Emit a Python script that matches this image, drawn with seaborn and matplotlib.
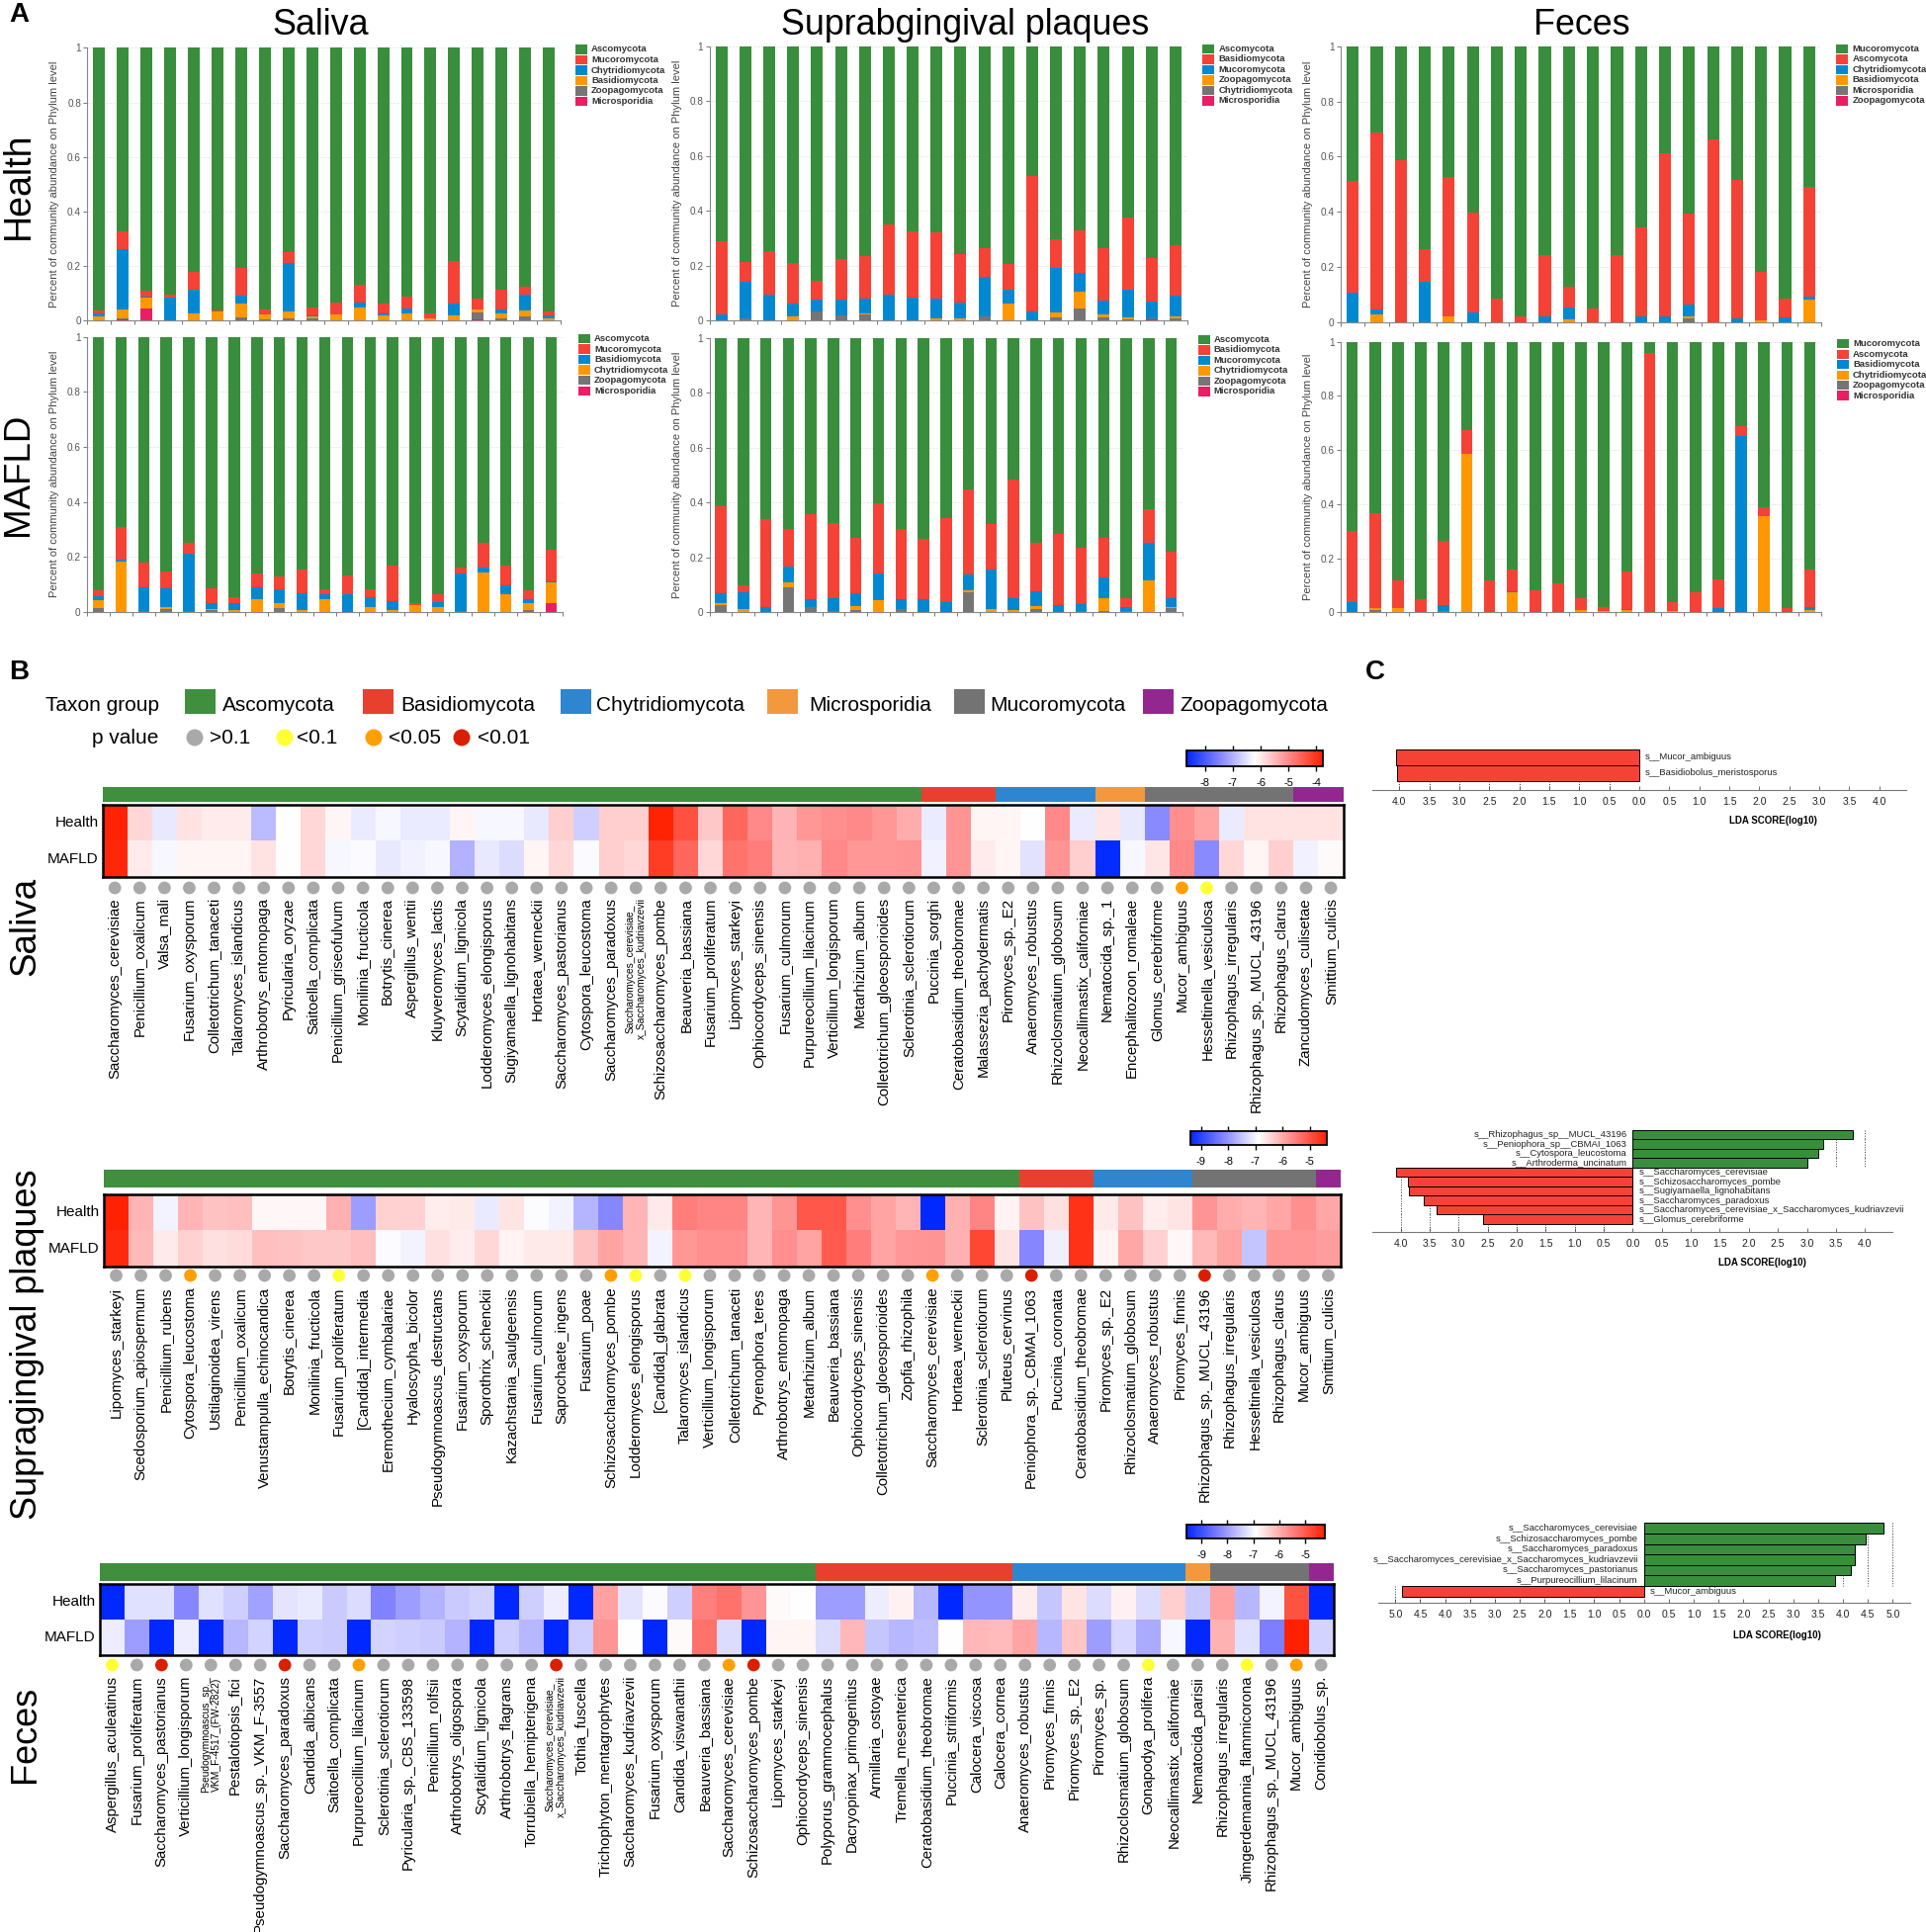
import numpy as np
import pandas as pd
import matplotlib
matplotlib.use("Agg")
import matplotlib.pyplot as plt
from matplotlib.colors import LinearSegmentedColormap, ListedColormap
from matplotlib.patches import Rectangle
import seaborn as sns

W, H = 1949, 1954

# ---------- panel A: phylum composition (bottom-up slots, green fills to 1) ----------
saliva_h_pink = [0, .005, .045, 0, 0, 0, 0, 0, 0, 0, 0, 0, 0, 0, 0, 0, .003, 0, 0, 0]
saliva_h_gray = [0, .003, 0, 0, 0, 0, .012, .005, .007, .01, 0, 0, 0, 0, 0, 0, .027, .01, .017, 0]
saliva_h_orange = [.015, .032, .04, 0, .027, .032, .051, .019, .028, .005, .024, .05, .02, .028, .01, .018, .01, .016, .02, .01]
saliva_h_blue = [.01, .222, .003, .083, .085, 0, .027, 0, .178, .005, 0, .018, .005, .018, 0, .044, 0, .016, .058, .01]
saliva_h_red = [.012, .065, .023, .012, .068, .005, .102, .016, .037, .03, .043, .064, .037, .042, .015, .156, .04, .071, .029, .012]

saliva_m_pink = [0] * 20 + [.03]
saliva_m_gray = [.012, 0, .003, .01, .003, .005, 0, 0, .014, 0, 0, 0, 0, 0, 0, 0, .003, 0, 0, .006, 0]
saliva_m_orange = [.029, .184, 0, .007, 0, .005, .007, .045, .019, .006, .045, 0, .016, .006, .024, .018, 0, .143, .065, .026, .076]
saliva_m_blue = [.015, .006, .087, .067, .207, .023, .023, .045, .047, .06, .018, .064, .037, .031, .001, .017, .137, .017, .032, .013, .006]
saliva_m_red = [.022, .117, .09, .063, .04, .051, .022, .051, .048, .087, .02, .068, .027, .131, .005, .028, .02, .09, .07, .032, .113]

supra_h_pink = [0] * 18 + [.005, 0]
supra_h_gray = [0, .01, 0, 0, .032, .02, .024, 0, 0, 0, 0, .015, 0, 0, .013, .046, .012, .003, .003, .007]
supra_h_orange = [0, 0, 0, .016, 0, 0, .003, .002, 0, .01, .01, 0, .062, 0, .017, .061, .011, .01, 0, .007]
supra_h_blue = [.023, .132, .096, .046, .044, .056, .055, .094, .083, .072, .057, .145, .051, .033, .162, .066, .052, .1, .06, .076]
supra_h_red = [.267, .072, .156, .148, .07, .15, .154, .254, .242, .24, .175, .105, .092, .495, .106, .157, .188, .262, .16, .185]

supra_m_pink = [0] * 21
supra_m_gray = [.028, 0, 0, .092, .018, .003, .01, 0, .012, 0, 0, .074, 0, 0, .012, 0, .003, .003, .005, 0, .015]
supra_m_orange = [.005, .012, 0, .016, 0, 0, .012, .043, 0, 0, 0, .006, .012, .007, .011, 0, 0, .047, 0, .118, .005]
supra_m_blue = [.037, .06, .02, .057, .03, .05, .048, .1, .036, .048, .037, .057, .144, .046, .052, .028, .027, .078, .015, .134, .033]
supra_m_red = [.318, .025, .319, .138, .31, .272, .2, .253, .254, .219, .308, .31, .167, .432, .18, .257, .204, .142, .033, .124, .168]

feces_h_pink = [0] * 20
feces_h_gray = [0] * 14 + [.012] + [0] * 5
feces_h_orange = [0, .028, 0, 0, .02, 0, 0, 0, 0, .008, 0, 0, 0, 0, .01, 0, 0, .006, 0, .08]
feces_h_blue = [.105, .017, 0, .146, 0, .035, 0, 0, .02, .044, 0, 0, .022, .02, .043, 0, .012, 0, .017, .011]
feces_h_red = [.407, .643, .589, .117, .506, .362, .084, .02, .222, .075, .05, .243, .321, .591, .327, .662, .502, .175, .069, .399]

feces_m_pink = [0] * 21
feces_m_gray = [0, .01, 0, .006, .006, 0, 0, 0, .003, 0, 0, 0, 0, 0, 0, 0, 0, 0, 0, 0, 0]
feces_m_orange = [0, .005, .016, 0, 0, .587, 0, .075, 0, 0, .009, .004, .008, 0, .005, 0, 0, 0, .355, 0, .01]
feces_m_blue = [.036, 0, 0, 0, .02, 0, 0, .003, .003, 0, 0, 0, .005, 0, 0, 0, .014, .65, 0, 0, .01]
feces_m_red = [.266, .35, .102, .044, .237, .086, .118, .082, .077, .106, .043, .016, .137, .957, .031, .074, .108, .04, .032, .014, .14]

legend_saliva_h = ["Ascomycota", "Mucoromycota", "Chytridiomycota", "Basidiomycota", "Zoopagomycota", "Microsporidia"]
legend_saliva_m = ["Ascomycota", "Mucoromycota", "Basidiomycota", "Chytridiomycota", "Zoopagomycota", "Microsporidia"]
legend_supra_h = ["Ascomycota", "Basidiomycota", "Mucoromycota", "Zoopagomycota", "Chytridiomycota", "Microsporidia"]
legend_supra_m = ["Ascomycota", "Basidiomycota", "Mucoromycota", "Chytridiomycota", "Zoopagomycota", "Microsporidia"]
legend_feces_h = ["Mucoromycota", "Ascomycota", "Chytridiomycota", "Basidiomycota", "Microsporidia", "Zoopagomycota"]
legend_feces_m = ["Mucoromycota", "Ascomycota", "Basidiomycota", "Chytridiomycota", "Zoopagomycota", "Microsporidia"]

# ---------- panel B: heatmaps ----------
taxon_groups = ["Ascomycota", "Basidiomycota", "Chytridiomycota", "Microsporidia", "Mucoromycota", "Zoopagomycota"]
SACC_X = "Saccharomyces_cerevisiae_\nx_Saccharomyces_kudriavzevii"

saliva_names = ["Saccharomyces_cerevisiae", "Penicillium_oxalicum", "Valsa_mali", "Fusarium_oxysporum", "Colletotrichum_tanaceti",
                "Talaromyces_islandicus", "Arthrobotrys_entomopaga", "Pyricularia_oryzae", "Saitoella_complicata", "Penicillium_griseofulvum",
                "Monilinia_fructicola", "Botrytis_cinerea", "Aspergillus_wentii", "Kluyveromyces_lactis", "Scytalidium_lignicola",
                "Lodderomyces_elongisporus", "Sugiyamaella_lignohabitans", "Hortaea_werneckii", "Saccharomyces_pastorianus", "Cytospora_leucostoma",
                "Saccharomyces_paradoxus", SACC_X, "Schizosaccharomyces_pombe", "Beauveria_bassiana", "Fusarium_proliferatum",
                "Lipomyces_starkeyi", "Ophiocordyceps_sinensis", "Fusarium_culmorum", "Purpureocillium_lilacinum", "Verticillium_longisporum",
                "Metarhizium_album", "Colletotrichum_gloeosporioides", "Sclerotinia_sclerotiorum", "Puccinia_sorghi", "Ceratobasidium_theobromae",
                "Malassezia_pachydermatis", "Piromyces_sp._E2", "Anaeromyces_robustus", "Rhizoclosmatium_globosum", "Neocallimastix_californiae",
                "Nematocida_sp._1", "Encephalitozoon_romaleae", "Glomus_cerebriforme", "Mucor_ambiguus", "Hesseltinella_vesiculosa",
                "Rhizophagus_irregularis", "Rhizophagus_sp._MUCL_43196", "Rhizophagus_clarus", "Zancudomyces_culisetae", "Smittium_culicis"]
saliva_health = [-3.8, -5.8, -6.45, -5.9, -6.0, -6.0, -6.9, -6.2, -5.8, -6.1, -6.4, -6.3, -6.4, -6.4, -6.1, -6.3, -6.3, -6.45, -5.7, -6.7,
                 -5.7, -5.7, -3.8, -4.35, -5.65, -4.6, -5.0, -5.45, -5.15, -5.05, -5.0, -5.15, -5.35, -6.4, -5.1, -6.1, -6.1, -6.2, -5.0, -6.4,
                 -5.95, -6.45, -7.4, -5.05, -5.25, -6.4, -5.9, -5.9, -5.9, -5.9]
saliva_mafld = [-3.85, -6.0, -6.3, -6.1, -6.1, -6.1, -5.9, -6.2, -5.8, -6.3, -6.25, -6.45, -6.35, -6.3, -7.0, -6.45, -6.55, -6.1, -5.8, -6.25,
                -5.7, -5.8, -4.1, -4.6, -5.8, -4.75, -4.85, -5.45, -5.4, -5.0, -5.15, -5.15, -5.1, -6.35, -5.1, -6.0, -6.1, -6.5, -5.1, -5.7,
                -8.6, -6.3, -5.95, -5.0, -7.4, -5.8, -6.1, -5.7, -6.35, -6.15]
saliva_counts = [33, 3, 4, 2, 6, 2]
saliva_p = {44: "<0.05", 45: "<0.1"}
saliva_cbar_ticks = [-8, -7, -6, -5, -4]

supra_names = ["Lipomyces_starkeyi", "Scedosporium_apiospermum", "Penicillium_rubens", "Cytospora_leucostoma", "Ustilaginoidea_virens",
               "Penicillium_oxalicum", "Venustampulla_echinocandica", "Botrytis_cinerea", "Monilinia_fructicola", "Fusarium_proliferatum",
               "[Candida]_intermedia", "Eremothecium_cymbalariae", "Hyaloscypha_bicolor", "Pseudogymnoascus_destructans", "Fusarium_oxysporum",
               "Sporothrix_schenckii", "Kazachstania_saulgeensis", "Fusarium_culmorum", "Saprochaete_ingens", "Fusarium_poae",
               "Schizosaccharomyces_pombe", "Lodderomyces_elongisporus", "[Candida]_glabrata", "Talaromyces_islandicus", "Verticillium_longisporum",
               "Colletotrichum_tanaceti", "Pyrenophora_teres", "Arthrobotrys_entomopaga", "Metarhizium_album", "Beauveria_bassiana",
               "Ophiocordyceps_sinensis", "Colletotrichum_gloeosporioides", "Zopfia_rhizophila", "Saccharomyces_cerevisiae", "Hortaea_werneckii",
               "Sclerotinia_sclerotiorum", "Pluteus_cervinus", "Peniophora_sp._CBMAI_1063", "Puccinia_coronata", "Ceratobasidium_theobromae",
               "Piromyces_sp._E2", "Rhizoclosmatium_globosum", "Anaeromyces_robustus", "Piromyces_finnis", "Rhizophagus_sp._MUCL_43196",
               "Rhizophagus_irregularis", "Hesseltinella_vesiculosa", "Rhizophagus_clarus", "Mucor_ambiguus", "Smittium_culicis"]
supra_health = [-4.4, -6.1, -7.0, -6.1, -6.25, -6.2, -6.8, -6.8, -6.8, -6.05, -7.9, -6.4, -6.4, -6.7, -6.65, -7.1, -6.6, -6.9, -7.0, -7.65,
                -8.15, -6.1, -6.65, -5.5, -5.6, -5.6, -6.1, -5.75, -5.05, -5.05, -5.7, -5.9, -6.1, -9.38, -6.05, -5.6, -6.75, -6.25, -6.55, -4.6,
                -6.65, -6.25, -6.7, -6.6, -5.75, -6.0, -6.1, -5.95, -5.7, -5.95]
supra_mafld = [-4.5, -6.15, -6.65, -6.4, -6.55, -6.5, -6.2, -6.25, -6.3, -6.3, -6.2, -6.9, -7.0, -6.55, -6.7, -6.45, -6.75, -6.65, -6.65, -6.25,
               -5.9, -6.1, -7.0, -5.8, -5.7, -5.7, -6.1, -5.7, -5.9, -5.1, -5.5, -5.9, -5.8, -5.75, -6.05, -4.85, -6.6, -8.15, -7.05, -4.6,
               -6.75, -5.95, -6.4, -6.8, -6.15, -5.9, -7.5, -5.8, -5.8, -5.85]
supra_counts = [37, 3, 4, 0, 5, 1]
supra_p = {4: "<0.05", 10: "<0.1", 21: "<0.05", 22: "<0.1", 24: "<0.1", 34: "<0.05", 38: "<0.01", 45: "<0.01"}
supra_cbar_ticks = [-9, -8, -7, -6, -5]

feces_names = ["Aspergillus_aculeatinus", "Fusarium_proliferatum", "Saccharomyces_pastorianus", "Verticillium_longisporum",
               "Pseudogymnoascus_sp._\nVKM_F-4517_(FW-2822)", "Pestalotiopsis_fici", "Pseudogymnoascus_sp._VKM_F-3557", "Saccharomyces_paradoxus",
               "Candida_albicans", "Saitoella_complicata", "Purpureocillium_lilacinum", "Sclerotinia_sclerotiorum", "Pyricularia_sp._CBS_133598",
               "Penicillium_rolfsii", "Arthrobotrys_oligospora", "Scytalidium_lignicola", "Arthrobotrys_flagrans", "Torrubiella_hemipterigena",
               SACC_X, "Tothia_fuscella", "Trichophyton_mentagrophytes", "Saccharomyces_kudriavzevii", "Fusarium_oxysporum", "Candida_viswanathii",
               "Beauveria_bassiana", "Saccharomyces_cerevisiae", "Schizosaccharomyces_pombe", "Lipomyces_starkeyi", "Ophiocordyceps_sinensis",
               "Polyporus_grammocephalus", "Dacryopinax_primogenitus", "Armillaria_ostoyae", "Tremella_mesenterica", "Ceratobasidium_theobromae",
               "Puccinia_striiformis", "Calocera_viscosa", "Calocera_cornea", "Anaeromyces_robustus", "Piromyces_finnis", "Piromyces_sp._E2",
               "Piromyces_sp.", "Rhizoclosmatium_globosum", "Gonapodya_prolifera", "Neocallimastix_californiae", "Nematocida_parisii",
               "Rhizophagus_irregularis", "Jimgerdemannia_flammicorona", "Rhizophagus_sp._MUCL_43196", "Mucor_ambiguus", "Conidiobolus_sp."]
feces_health = [-9.55, -7.25, -7.25, -8.25, -7.25, -7.45, -7.95, -7.2, -7.15, -7.5, -7.3, -8.3, -8.0, -7.75, -7.5, -7.4, -9.55, -7.45, -7.1, -9.55,
                -5.85, -7.2, -6.95, -7.45, -5.45, -5.3, -5.7, -6.85, -6.9, -8.0, -8.0, -7.1, -6.75, -7.7, -9.55, -8.1, -8.1, -6.7, -7.55, -6.6,
                -7.3, -6.75, -7.3, -6.35, -7.5, -5.85, -7.7, -7.05, -4.9, -9.55]
feces_mafld = [-7.1, -8.0, -9.55, -7.1, -9.55, -7.7, -7.4, -9.55, -7.45, -7.5, -9.55, -7.4, -7.45, -7.5, -7.75, -9.55, -7.45, -7.7, -9.55, -7.45,
               -5.7, -6.9, -9.55, -6.85, -5.3, -7.3, -9.55, -6.8, -6.8, -7.3, -6.1, -7.55, -7.7, -7.65, -6.9, -6.1, -6.15, -5.9, -7.7, -6.25,
               -8.0, -7.35, -7.85, -7.0, -9.55, -6.05, -7.25, -8.35, -4.25, -7.4]
feces_counts = [29, 8, 7, 1, 4, 1]
feces_p = {1: "<0.1", 3: "<0.01", 8: "<0.01", 11: "<0.05", 19: "<0.01", 26: "<0.05", 27: "<0.01", 43: "<0.1", 47: "<0.1", 49: "<0.05"}
feces_cbar_ticks = [-9, -8, -7, -6, -5]

# ---------- panel C: LDA scores (negative = left side) ----------
lda1_names = ["s__Mucor_ambiguus", "s__Basidiobolus_meristosporus"]
lda1_scores = [-4.05, -4.04]
lda2_names = ["s__Rhizophagus_sp__MUCL_43196", "s__Peniophora_sp__CBMAI_1063", "s__Cytospora_leucostoma", "s__Arthroderma_uncinatum",
              "s__Saccharomyces_cerevisiae", "s__Schizosaccharomyces_pombe", "s__Sugiyamaella_lignohabitans", "s__Saccharomyces_paradoxus",
              "s__Saccharomyces_cerevisiae_x_Saccharomyces_kudriavzevii", "s__Glomus_cerebriforme"]
lda2_scores = [3.80, 3.28, 3.19, 3.01, -4.07, -3.88, -3.86, -3.6, -3.38, -2.58]
lda3_names = ["s__Saccharomyces_cerevisiae", "s__Schizosaccharomyces_pombe", "s__Saccharomyces_paradoxus",
              "s__Saccharomyces_cerevisiae_x_Saccharomyces_kudriavzevii", "s__Saccharomyces_pastorianus", "s__Purpureocillium_lilacinum",
              "s__Mucor_ambiguus"]
lda3_scores = [4.81, 4.46, 4.23, 4.24, 4.16, 3.85, -4.87]

# ---------- styling ----------
STACK_COLORS = {"pink": "#E91E63", "gray": "#757575", "orange": "#FF9800", "blue": "#0288D1", "red": "#F44336", "green": "#388E3C"}
LEGEND_COLORS = ["#388E3C", "#F44336", "#0288D1", "#FF9800", "#757575", "#E91E63"]
STRIP_COLORS = ["#3F8F3F", "#E8402F", "#2E86D1", "#F4983E", "#737373", "#93278F"]
P_COLORS = {">0.1": "#A9A9A9", "<0.1": "#FFFF33", "<0.05": "#FF9F00", "<0.01": "#D91F00"}
HEAT_CMAP = LinearSegmentedColormap.from_list("bwr2", ["#0028FF", "#8888FF", "#FFFFFF", "#FF8888", "#FF2000"])

sns.set_theme(style="white")
plt.rcParams["font.family"] = ["Liberation Sans", "DejaVu Sans"]
plt.rcParams["axes.unicode_minus"] = False

fig = plt.figure(figsize=(W / 100, H / 100), dpi=100)


def px_axes(x0, y0, x1, y1):
    return fig.add_axes([x0 / W, 1 - y1 / H, (x1 - x0) / W, (y1 - y0) / H])


def px_text(x, y, s, **kw):
    kw.setdefault("ha", "center")
    kw.setdefault("va", "center")
    kw.setdefault("color", "black")
    return fig.text(x / W, 1 - y / H, s, **kw)


def stacked_panel(box, pink, gray, orange, blue, red, labels, legend_xy):
    ax = px_axes(*box)
    slots = {"pink": pink, "gray": gray, "orange": orange, "blue": blue, "red": red}
    n = len(red)
    xs = list(range(n))
    bottom = np.zeros(n)
    for name, vals in slots.items():
        vals = np.array(vals, dtype=float)
        sns.barplot(x=xs, y=vals, bottom=bottom, color=STACK_COLORS[name], saturation=1, width=0.5,
                    errorbar=None, linewidth=0, ax=ax)
        bottom = bottom + vals
    sns.barplot(x=xs, y=1 - bottom, bottom=bottom, color=STACK_COLORS["green"], saturation=1, width=0.5,
                errorbar=None, linewidth=0, ax=ax)
    ax.set_xlim(-0.5, n - 0.5)
    ax.set_ylim(0, 1)
    ax.set_xticks(np.arange(n + 1) - 0.5)
    ax.set_xticklabels([])
    ax.set_yticks([0, .2, .4, .6, .8, 1])
    ax.set_yticklabels(["0", "0.2", "0.4", "0.6", "0.8", "1"])
    ax.tick_params(axis="both", length=2.6, width=0.7, color="#777777", labelcolor="#555555", labelsize=7.2, pad=2,
                   bottom=True, left=True)
    ax.set_axisbelow(True)
    ax.grid(axis="y", ls="--", lw=0.5, color="#E2E2E2")
    ax.set_xlabel("")
    ax.set_ylabel("")
    sns.despine(ax=ax)
    for side in ["left", "bottom"]:
        ax.spines[side].set_color("#888888")
        ax.spines[side].set_linewidth(0.8)
    px_text(box[0] - 33, (box[1] + box[3]) / 2, "Percent of community abundance on Phylum level",
            rotation=90, fontsize=8.05, color="#444444")
    lx, ly = legend_xy
    for i, lab in enumerate(labels):
        cy = ly + i * 10.5
        fig.patches.append(Rectangle((lx / W, 1 - (cy + 4.7) / H), 12 / W, 9.4 / H, transform=fig.transFigure,
                                     facecolor=LEGEND_COLORS[i], edgecolor="none"))
        px_text(lx + 16, cy, lab, ha="left", fontsize=6.8, fontweight="bold", color="#333333")


def heat_panel(names, health, mafld, counts, p_marks, strip_box, heat_box, dot_y, label_top, cbar_box, vmin, vmax, ticks):
    n = len(names)
    strip = np.repeat(np.arange(6), counts).reshape(1, -1)
    ax_s = px_axes(*strip_box)
    sns.heatmap(strip, cmap=ListedColormap(STRIP_COLORS), vmin=-0.5, vmax=5.5, cbar=False,
                xticklabels=False, yticklabels=False, ax=ax_s)

    cax = px_axes(*cbar_box)
    data = pd.DataFrame([health, mafld], index=["Health", "MAFLD"], columns=range(n))
    ax = px_axes(*heat_box)
    sns.heatmap(data, cmap=HEAT_CMAP, vmin=vmin, vmax=vmax, ax=ax, cbar_ax=cax,
                cbar_kws={"orientation": "horizontal", "ticks": ticks},
                xticklabels=names, yticklabels=data.index)
    for spine in ax.spines.values():
        spine.set_visible(True)
        spine.set_color("black")
        spine.set_linewidth(1.8)
    pad = (label_top - heat_box[3]) * 0.72
    ax.tick_params(axis="x", length=0, pad=pad, rotation=90)
    ax.tick_params(axis="y", length=0, pad=3, rotation=0)
    for lab in ax.get_xticklabels():
        lab.set_va("top")
        lab.set_ha("center")
        lab.set_color("black")
        lab.set_fontsize(7.4 if "\n" in lab.get_text() else 10.8)
        lab.set_linespacing(1.15)
    for lab in ax.get_yticklabels():
        lab.set_fontsize(11)
        lab.set_color("black")
    ax.set_xlabel("")
    ax.set_ylabel("")

    # p value dots under the heatmap
    ax_d = px_axes(heat_box[0], dot_y - 9, heat_box[2], dot_y + 9)
    dots = pd.DataFrame({"x": np.arange(n) + 0.5, "y": np.zeros(n),
                         "p": [p_marks.get(i + 1, ">0.1") for i in range(n)]})
    sns.scatterplot(data=dots, x="x", y="y", hue="p", palette=P_COLORS, s=85, linewidth=0, legend=False, ax=ax_d)
    ax_d.set_xlim(0, n)
    ax_d.set_ylim(-1, 1)
    ax_d.axis("off")

    # colour key
    cb = ax.collections[0].colorbar
    cb.outline.set_edgecolor("black")
    cb.outline.set_linewidth(1.3)
    cax.tick_params(axis="x", top=True, bottom=True, direction="out", length=3.6, width=1, color="black",
                    labelsize=8, pad=5, labelcolor="black")


def lda_panel(names, scores, box, xlim, ticks, row_h, text_fs=6.8):
    ax = px_axes(*box)
    n = len(names)
    side = ["right" if v > 0 else "left" for v in scores]
    sns.barplot(x=scores, y=names, hue=side, palette={"right": "#388E3C", "left": "#F44336"}, dodge=False, width=1.0,
                edgecolor="black", linewidth=0.7, saturation=1, legend=False, ax=ax, hue_order=["right", "left"])
    extra = (box[3] - box[1]) / row_h
    ax.set_ylim(extra - 0.5, -0.5)
    ax.set_xlim(*xlim)
    ax.set_yticks([])
    ax.set_ylabel("")
    ax.set_xlabel("")
    ax.set_xticks(ticks)
    ax.set_xticklabels([f"{abs(t):.1f}" for t in ticks])
    ax.tick_params(axis="x", direction="in", length=2.6, width=0.6, color="#555555", labelsize=7.5, pad=5, labelcolor="#222222",
                   bottom=True)
    sns.despine(ax=ax, left=True)
    ax.spines["bottom"].set_color("#777777")
    ax.spines["bottom"].set_linewidth(0.8)
    ax.patch.set_alpha(0)
    # dotted guides run only through the empty part of each row
    for i, v in enumerate(scores):
        for t in ticks:
            if t != 0 and t * v > 0 and abs(t) > abs(v):
                ax.vlines(t, i - 0.5, i + 0.5, colors="#333333", linestyles=":", lw=0.7)
    for t in ticks:
        if t < 0:
            ax.vlines(t, n - 0.5, extra - 0.5, colors="#333333", linestyles=":", lw=0.7)
    scale = (box[2] - box[0]) / (xlim[1] - xlim[0])
    for i, (name, v) in enumerate(zip(names, scores)):
        if v > 0:
            ax.text(-6 / scale, i, name, ha="right", va="center", fontsize=text_fs, color="#222222")
        else:
            ax.text(6 / scale, i, name, ha="left", va="center", fontsize=text_fs, color="#222222")


# ---------- panel A ----------
stacked_panel((88.5, 48.3, 567, 324.3), saliva_h_pink, saliva_h_gray, saliva_h_orange, saliva_h_blue, saliva_h_red, legend_saliva_h, (582, 50))
stacked_panel((88, 340.7, 569, 618.7), saliva_m_pink, saliva_m_gray, saliva_m_orange, saliva_m_blue, saliva_m_red, legend_saliva_m, (585, 342.7))
stacked_panel((717.7, 47, 1201, 324.3), supra_h_pink, supra_h_gray, supra_h_orange, supra_h_blue, supra_h_red, legend_supra_h, (1216.4, 49.3))
stacked_panel((717.7, 341.7, 1196, 619.3), supra_m_pink, supra_m_gray, supra_m_orange, supra_m_blue, supra_m_red, legend_supra_m, (1211.8, 343.3))
stacked_panel((1356, 47, 1842, 325.7), feces_h_pink, feces_h_gray, feces_h_orange, feces_h_blue, feces_h_red, legend_feces_h, (1857.5, 49.3))
stacked_panel((1356, 345.7, 1842, 619.3), feces_m_pink, feces_m_gray, feces_m_orange, feces_m_blue, feces_m_red, legend_feces_m, (1858, 347.7))

for cx, title in [(324, "Saliva"), (976, "Suprabgingival plaques"), (1600, "Feces")]:
    px_text(cx, 35, title, fontsize=25.8, va="baseline")
px_text(19, 188, "Health", rotation=90, fontsize=27)
px_text(19, 480, "MAFLD", rotation=90, fontsize=26.5)
px_text(19, 15, "A", fontsize=20, fontweight="bold")
px_text(19, 680, "B", fontsize=20, fontweight="bold")
px_text(1391, 680, "C", fontsize=20, fontweight="bold")

# ---------- panel B legend ----------
px_text(46, 713, "Taxon group", ha="left", fontsize=15)
px_text(160.7, 746, "p value", ha="right", fontsize=15)
for swatch_x, text_x, col, lab in zip([186.6, 367, 567, 776, 965, 1156], [225, 405, 603.5, 818, 1001, 1193], STRIP_COLORS, taxon_groups):
    fig.patches.append(Rectangle((swatch_x / W, 1 - 721.7 / H), 31 / W, 25 / H, transform=fig.transFigure, facecolor=col, edgecolor="none"))
    px_text(text_x, 713, lab, ha="left", fontsize=15)
ax_key = px_axes(0, 736, W, 756)
key = pd.DataFrame({"x": [197, 288, 378, 467], "y": [0, 0, 0, 0], "p": list(P_COLORS)})
sns.scatterplot(data=key, x="x", y="y", hue="p", palette=P_COLORS, s=150, linewidth=0, legend=False, ax=ax_key)
ax_key.set_xlim(0, W)
ax_key.set_ylim(-1, 1)
ax_key.axis("off")
for text_x, lab in zip([212, 300, 393, 483], P_COLORS):
    px_text(text_x, 746, lab, ha="left", fontsize=15)

# ---------- panel B heatmaps ----------
heat_panel(saliva_names, saliva_health, saliva_mafld, saliva_counts, saliva_p, (103.6, 796, 1358.6, 811), (103.6, 814, 1358.6, 886.7),
           898, 908, (1200.5, 759.3, 1338, 775), -8.65, -3.76, saliva_cbar_ticks)
heat_panel(supra_names, supra_health, supra_mafld, supra_counts, supra_p, (105, 1182.7, 1356, 1201.3), (105, 1208, 1356, 1280.7),
           1290, 1301.7, (1204, 1144, 1342, 1158.3), -9.39, -4.37, supra_cbar_ticks)
heat_panel(feces_names, feces_health, feces_mafld, feces_counts, feces_p, (101, 1580.7, 1348.6, 1599), (101, 1602, 1348.6, 1674),
           1684, 1695, (1200, 1541.7, 1340, 1555.7), -9.57, -4.24, feces_cbar_ticks)

px_text(26, 937, "Saliva", rotation=90, fontsize=26.5)
px_text(28, 1360, "Supragingival plaques", rotation=90, fontsize=26)
px_text(26, 1754, "Feces", rotation=90, fontsize=26)

# ---------- panel C ----------
lda_panel(lda1_names, lda1_scores, (1387.7, 757.6, 1928, 798.6), ((1387.7 - 1658) / 60.7, (1928 - 1658) / 60.7),
          list(np.arange(-4, 4.01, .5)), 16)
lda_panel(lda2_names, lda2_scores, (1388.5, 1142.8, 1913.6, 1245.6), ((1388.5 - 1651.4) / 58.7, (1913.6 - 1651.4) / 58.7),
          list(np.arange(-4, 4.01, .5)), 9.5)
lda_panel(lda3_names, lda3_scores, (1394, 1540.3, 1932, 1621), ((1394 - 1662.8) / 50.3, (1932 - 1662.8) / 50.3),
          list(np.arange(-5, 5.01, .5)), 10.6)
for cx, cy in [(1793, 830.5), (1782.5, 1276.8), (1797, 1654)]:
    px_text(cx, cy, "LDA SCORE(log10)", fontsize=7, fontweight="bold")

fig.savefig("out.png", dpi=100, facecolor="white")
